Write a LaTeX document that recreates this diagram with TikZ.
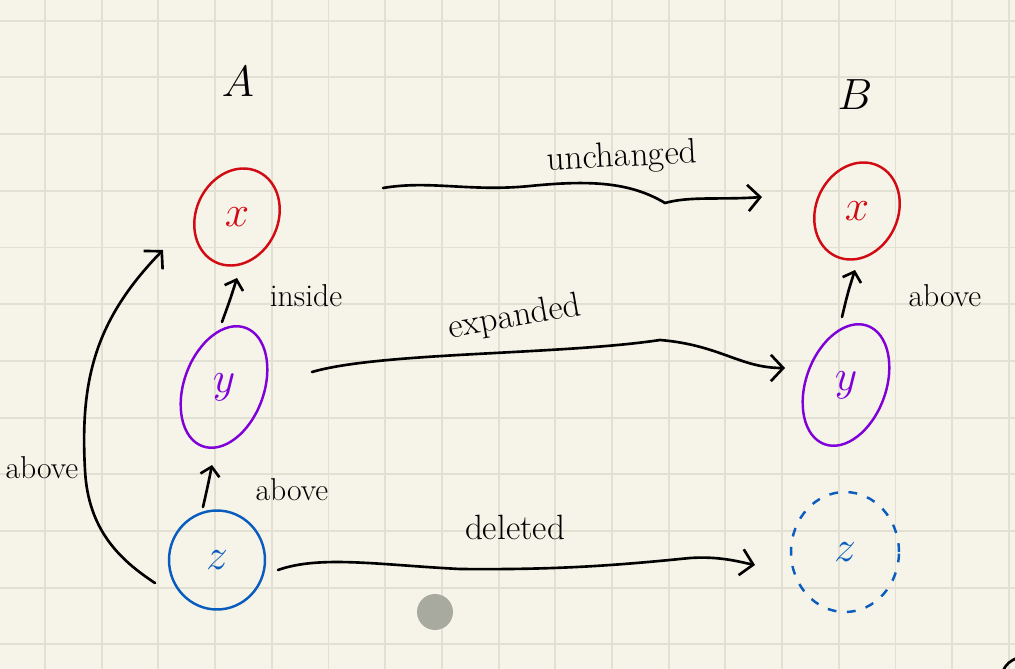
\documentclass[tikz,border=0pt]{standalone}
\usepackage{amsmath}
\usepackage{tikz}
\usepackage{xcolor}
\usetikzlibrary{shapes.geometric, arrows.meta, positioning, calc}

\definecolor{paper}{HTML}{F6F4E8}
\definecolor{gridgray}{HTML}{E2DFD3}
\definecolor{inkred}{HTML}{D20A14}
\definecolor{inkpurple}{HTML}{8000DA}
\definecolor{inkblue}{HTML}{0A5CBE}
\definecolor{dotgray}{HTML}{A9AA9F}

\begin{document}
\begin{tikzpicture}[x=0.02cm, y=-0.02cm]
		% Define styles for variables, labels and arrows
		\tikzstyle{var} = [ellipse, line width=1.4pt, inner sep=0pt, font=\fontsize{40}{40}\selectfont]
		\tikzstyle{setname} = [font=\fontsize{28}{28}\selectfont]
		\tikzstyle{lbl} = [font=\fontsize{20}{24}\selectfont]
		\tikzstyle{smalllbl} = [font=\fontsize{18}{22}\selectfont]
		\tikzstyle{arrow} = [line width=1.5pt, line cap=round, -{Straight Barb[length=7pt, width=15pt, line width=1.5pt]}]
		\tikzstyle{uparrow} = [line width=1.5pt, line cap=round, -{Straight Barb[length=5pt, width=11pt, line width=1.5pt]}]
		\tikzstyle{gridline} = [gridgray, line width=1.1pt]
		
		% Paper and grid
		\fill[paper] (0,0) rectangle (1015,669);
		\useasboundingbox (0,0) rectangle (1015,669);
		\foreach \i in {0,...,17} \draw[gridline] ({45+56.7*\i},0) -- ({45+56.7*\i},669);
		\foreach \j in {0,...,11} \draw[gridline] (0,{20.7+56.7*\j}) -- (1015,{20.7+56.7*\j});
		
		% Left side A
		\node[setname] (a) at (238,82) {$A$};
		\node[var, draw=inkred, text=inkred, minimum width=1.64cm, minimum height=2cm, rotate=-25] (ax) at (237,217) {\rotatebox{25}{$x$}};
		\node[var, draw=inkpurple, text=inkpurple, minimum width=1.6cm, minimum height=2.52cm, rotate=-20] (ay) at (224,387) {\rotatebox{20}{$y$}};
		\node[var, draw=inkblue, text=inkblue, minimum width=1.92cm, minimum height=1.98cm] (az) at (217,560) {$z$};
		
		% Right side B
		\node[setname] (b) at (855,95) {$B$};
		\node[var, draw=inkred, text=inkred, minimum width=1.64cm, minimum height=2cm, rotate=-25] (bx) at (857,211) {\rotatebox{25}{$x$}};
		\node[var, draw=inkpurple, text=inkpurple, minimum width=1.6cm, minimum height=2.52cm, rotate=-20] (by) at (846,385) {\rotatebox{20}{$y$}};
		\node[var, draw=inkblue, text=inkblue, dash pattern=on 5pt off 6pt, minimum width=2.16cm, minimum height=2.4cm] (bz) at (845,552) {$z$};
		
		% Relations inside A
		\draw[uparrow] ($(ay)+(-2,-65)$) .. controls (230,300) .. ($(ax)+(0,61)$);
		\node[smalllbl] (insidelbl) at (306,296) {inside};
		\draw[uparrow] ($(az)+(-14,-53)$) .. controls (208,485) .. ($(ay)+(-12,78)$);
		\node[smalllbl] (abovezy) at (292,490) {above};
		\draw[arrow] ($(az)+(-62,23)$) .. controls (120,560) and (88,530) .. (85,470) .. controls (80,380) and (95,320) .. ($(ax)+(-74,33)$);
		\node[smalllbl] (abovezx) at (42,468) {above};
		
		% Relation inside B
		\draw[uparrow] ($(by)+(-4,-68)$) .. controls (848,292) .. ($(bx)+(-2,59)$);
		\node[smalllbl] (abovexy) at (945,296) {above};
		
		% Mapping arrows from A to B
		\draw[arrow] ($(ax)+(146,-29)$) .. controls (430,180) and (470,192) .. (530,186) .. controls (590,180) and (630,182) .. (665,203) .. controls (690,196) and (720,200) .. ($(bx)+(-95,-14)$);
		\node[lbl, rotate=3] (unchlbl) at (622,158) {unchanged};
		\draw[arrow] ($(ay)+(88,-15)$) .. controls (380,352) and (560,355) .. (660,340) .. controls (720,345) and (740,368) .. ($(by)+(-61,-17)$);
		\node[lbl, rotate=10] (explbl) at (515,318) {expanded};
		\draw[arrow] ($(az)+(61,10)$) .. controls (320,555) and (380,565) .. (460,569) .. controls (560,570) and (620,565) .. (690,558) .. controls (720,556) and (740,562) .. ($(bz)+(-90,13)$);
		\node[lbl] (dellbl) at (515,527) {deleted};
		
		% Pointer dot and stray stroke
		\fill[dotgray] (435,612) circle (0.36cm);
		\draw[line width=1.5pt] (1003,671) .. controls (1006,664) and (1010,661) .. (1017,658);
	
	\end{tikzpicture}
\end{document}
